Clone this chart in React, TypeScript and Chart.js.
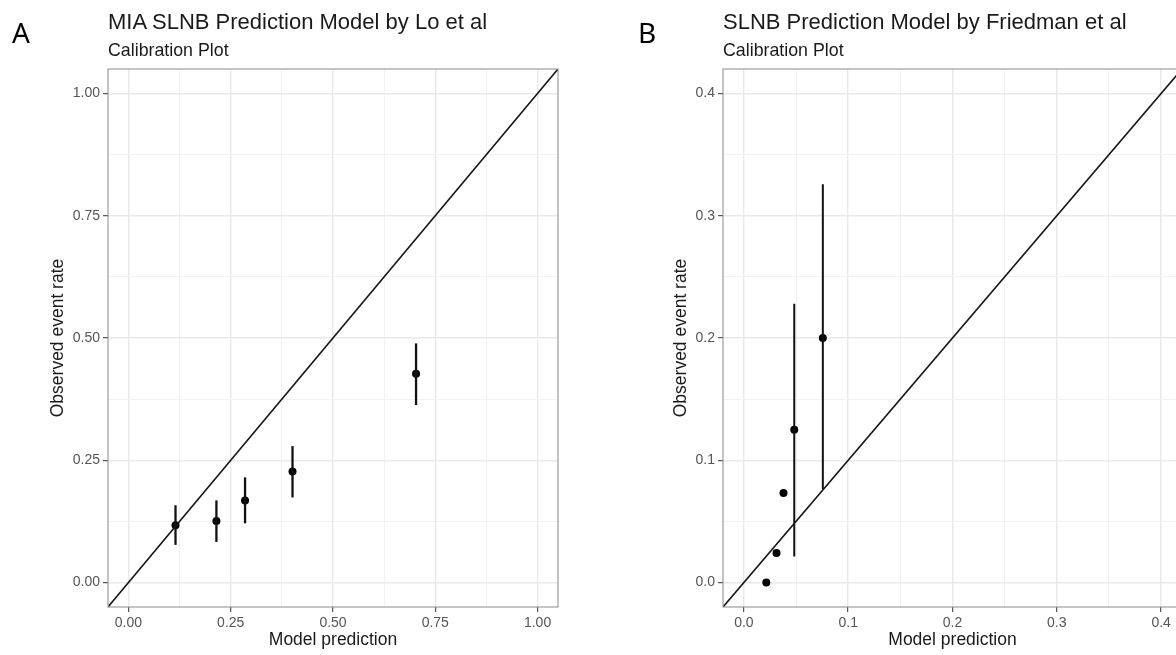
import React, { useEffect, useRef } from "react";
import { Chart, registerables } from "chart.js";

Chart.register(...registerables);

const FONT = '"Liberation Sans", Arial, Helvetica, sans-serif';

// Panel A: MIA SLNB model (Lo et al)
const predA = [0.115, 0.215, 0.285, 0.401, 0.703];
const obsA = [0.117, 0.126, 0.168, 0.227, 0.427];
const lowA = [0.077, 0.083, 0.121, 0.174, 0.363];
const highA = [0.158, 0.168, 0.215, 0.279, 0.489];
const tickValsA = [0, 0.125, 0.25, 0.375, 0.5, 0.625, 0.75, 0.875, 1.0];
const tickLabelsA = ["0.00", "0.25", "0.50", "0.75", "1.00"];

// Panel B: SLNB model (Friedman et al)
const predB = [0.0215, 0.0313, 0.038, 0.0483, 0.0757];
const obsB = [0.0, 0.0242, 0.0733, 0.125, 0.2];
const lowB: (number | null)[] = [null, null, null, 0.0213, 0.0763];
const highB: (number | null)[] = [null, null, null, 0.228, 0.3257];
const tickValsB = [0, 0.05, 0.1, 0.15, 0.2, 0.25, 0.3, 0.35, 0.4];
const tickLabelsB = ["0.0", "0.1", "0.2", "0.3", "0.4"];

const xTitle = "Model prediction";
const yTitle = "Observed event rate";

type PanelProps = {
  left: number;
  width: number;
  yAxisWidth: number;
  rightPad: number;
  min: number;
  max: number;
  tickVals: number[];
  tickLabels: string[];
  pred: number[];
  obs: number[];
  low: (number | null)[];
  high: (number | null)[];
  yTitlePad: number;
  barWidth: number;
};

const borderPlugin = {
  id: "panelBorder",
  afterDraw(chart: any) {
    const { ctx, chartArea } = chart;
    ctx.save();
    ctx.strokeStyle = "#8a8a8a";
    ctx.lineWidth = 1;
    ctx.strokeRect(chartArea.left, chartArea.top, chartArea.right - chartArea.left, chartArea.bottom - chartArea.top);
    ctx.restore();
  },
};

function Panel(p: PanelProps) {
  const ref = useRef<HTMLCanvasElement | null>(null);
  useEffect(() => {
    if (!ref.current) return;
    const datasets: any[] = [];
    datasets.push({
      data: [
        { x: p.min, y: p.min },
        { x: p.max, y: p.max },
      ],
      showLine: true,
      borderColor: "#151515",
      borderWidth: 1.6,
      pointRadius: 0,
    });
    p.pred.forEach((x, i) => {
      const lo = p.low[i];
      const hi = p.high[i];
      if (lo == null || hi == null) return;
      datasets.push({
        data: [
          { x, y: lo },
          { x, y: hi },
        ],
        showLine: true,
        borderColor: "#111",
        borderWidth: p.barWidth,
        pointRadius: 0,
      });
    });
    datasets.push({
      data: p.pred.map((x, i) => ({ x, y: p.obs[i] })),
      pointRadius: 4,
      pointBackgroundColor: "#000",
      pointBorderWidth: 0,
      showLine: false,
    });

    const grid = {
      color: (c: any) => (c.index % 2 === 0 ? "#e9e9e9" : "#f2f2f2"),
      lineWidth: (c: any) => (c.index % 2 === 0 ? 1.4 : 1),
      tickColor: (c: any) => (c.index % 2 === 0 ? "#333" : "rgba(0,0,0,0)"),
      tickLength: 5,
      tickWidth: 1,
      drawTicks: true,
    };
    const ticks = {
      autoSkip: false,
      maxRotation: 0,
      padding: 3,
      color: "#555",
      font: { family: FONT, size: 14 },
      callback: (_v: any, i: number) => (i % 2 === 0 ? p.tickLabels[i / 2] : ""),
    };
    const setTicks = (scale: any) => {
      scale.ticks = p.tickVals.map((v) => ({ value: v }));
    };

    const chart = new Chart(ref.current, {
      type: "scatter",
      data: { datasets },
      plugins: [borderPlugin],
      options: {
        animation: false,
        responsive: false,
        devicePixelRatio: 1,
        layout: { padding: { top: 69, right: p.rightPad, left: 0, bottom: 0 } },
        plugins: { legend: { display: false }, tooltip: { enabled: false } },
        scales: {
          x: {
            type: "linear",
            min: p.min,
            max: p.max,
            afterBuildTicks: setTicks,
            afterFit: (s: any) => {
              s.height = 48;
            },
            grid,
            border: { display: false },
            ticks,
            title: {
              display: true,
              text: xTitle,
              color: "#1a1a1a",
              font: { family: FONT, size: 17.5 },
              padding: { top: 0, bottom: 4 },
            },
          },
          y: {
            type: "linear",
            min: p.min,
            max: p.max,
            afterBuildTicks: setTicks,
            afterFit: (s: any) => {
              s.width = p.yAxisWidth;
            },
            grid,
            border: { display: false },
            ticks,
            title: {
              display: true,
              text: yTitle,
              color: "#1a1a1a",
              font: { family: FONT, size: 17.5 },
              padding: { top: p.yTitlePad, bottom: 0 },
            },
          },
        },
      } as any,
    });
    return () => chart.destroy();
  }, []);
  return (
    <canvas
      ref={ref}
      width={p.width}
      height={655}
      style={{ position: "absolute", left: p.left, top: 0, width: p.width, height: 655 }}
    />
  );
}

const letterStyle: React.CSSProperties = {
  position: "absolute",
  fontFamily: '"Noto Sans", "Open Sans", sans-serif',
  fontSize: 28,
  lineHeight: "28px",
  color: "#000",
  top: 18,
  whiteSpace: "nowrap",
};
const titleStyle: React.CSSProperties = {
  position: "absolute",
  fontFamily: FONT,
  fontSize: 22,
  lineHeight: "22px",
  color: "#1a1a1a",
  top: 11,
  whiteSpace: "nowrap",
};
const subStyle: React.CSSProperties = {
  position: "absolute",
  fontFamily: FONT,
  fontSize: 17.8,
  lineHeight: "17.8px",
  color: "#1a1a1a",
  top: 42,
  whiteSpace: "nowrap",
};

export default function App() {
  return (
    <div
      style={{
        position: "fixed",
        left: 0,
        top: 0,
        width: 1176,
        height: 655,
        overflow: "hidden",
        background: "#fff",
      }}
    >
      <Panel
        left={0}
        width={588}
        yAxisWidth={108}
        rightPad={30}
        min={-0.05}
        max={1.05}
        tickVals={tickValsA}
        tickLabels={tickLabelsA}
        pred={predA}
        obs={obsA}
        low={lowA}
        high={highA}
        yTitlePad={48}
        barWidth={2.3}
      />
      <Panel
        left={588}
        width={600}
        yAxisWidth={135}
        rightPad={6}
        min={-0.02}
        max={0.42}
        tickVals={tickValsB}
        tickLabels={tickLabelsB}
        pred={predB}
        obs={obsB}
        low={lowB}
        high={highB}
        yTitlePad={83}
        barWidth={2}
      />
      <div style={{ ...letterStyle, left: 12 }}>A</div>
      <div style={{ ...letterStyle, left: 638 }}>B</div>
      <div style={{ ...titleStyle, left: 108 }}>MIA SLNB Prediction Model by Lo et al</div>
      <div style={{ ...subStyle, left: 108 }}>Calibration Plot</div>
      <div style={{ ...titleStyle, left: 723 }}>SLNB Prediction Model by Friedman et al</div>
      <div style={{ ...subStyle, left: 723 }}>Calibration Plot</div>
    </div>
  );
}
